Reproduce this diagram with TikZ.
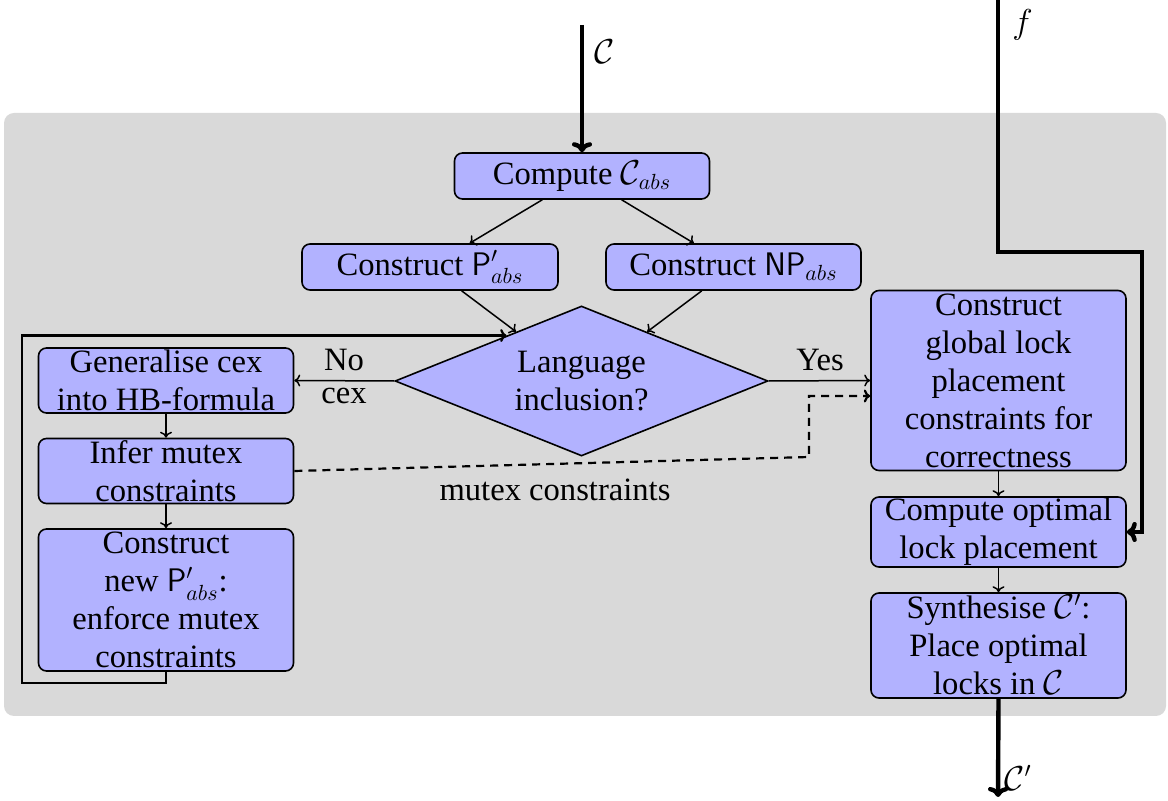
\documentclass[tikz,border=0pt]{standalone}
\usepackage{fontspec}
\setmainfont{Liberation Serif}
\usetikzlibrary{shapes.geometric,calc,arrows.meta}
\newcommand{\fsz}{\fontsize{16.3}{19}\selectfont}
\tikzset{
  box/.style={draw=black, line width=0.8pt, fill=blue!30, rounded corners=4pt,
    align=center, inner sep=0pt, font=\fsz, minimum width=127.5pt},
  decide/.style={diamond, draw=black, line width=0.8pt, fill=blue!30, align=center,
    inner sep=0pt, font=\fsz, minimum width=186.5pt, minimum height=75pt, aspect=2.5},
  conn/.style={line width=0.75pt, -{To[length=3pt,width=6pt]}},
  loopconn/.style={line width=1.1pt, -{To[length=3.2pt,width=6.5pt]}},
  dashconn/.style={line width=1.1pt, dash pattern=on 4pt off 3pt, -{To[length=3.2pt,width=6.5pt]}},
  thickconn/.style={line width=2.2pt, -{To[length=5pt,width=10pt]}},
  lbl/.style={font=\fsz, inner sep=0pt}
}
\begin{document}
\begin{tikzpicture}[x=0.5pt, y=-0.5pt]
\useasboundingbox (0,0) rectangle (1168,801);
\fill[gray!30, rounded corners=5pt] (4,113) rectangle (1166,716);

% nodes
\node[box, minimum height=23pt] (comp) at (582,176) {Compute $\mathcal{C}_{abs}$};
\node[box, minimum height=23pt, minimum width=128pt] (pp) at (430,267) {Construct $\mathsf{P}'_{abs}$};
\node[box, minimum height=23pt] (np) at (733.5,267) {Construct $\mathsf{NP}_{abs}$};
\node[decide] (lang) at (581.5,381) {Language\\inclusion?};
\node[box, minimum height=32.5pt] (gen) at (166,380.5) {Generalise cex\\into HB-formula};
\node[box, minimum height=32.5pt] (inf) at (166,471) {Infer mutex\\constraints};
\node[box, minimum height=71pt] (cnew) at (166,600) {Construct\\new $\smash{\mathsf{P}'_{abs}}$:\\enforce mutex\\constraints};
\node[box, minimum height=90pt] (glob) at (998.5,380.5) {Construct\\global lock\\placement\\constraints for\\correctness};
\node[box, minimum height=35pt] (opt) at (998.5,532) {Compute optimal\\lock placement};
\node[box, minimum height=52.5pt] (syn) at (998.5,645.5) {Synthesise $\smash{\mathcal{C}'}$:\\Place optimal\\locks in $\mathcal{C}$};

% coordinates
\coordinate (cin) at (582,25);
\coordinate (ftop) at (998,0);
\coordinate (fc1) at (1142,252);
\coordinate (cout) at (998,797);
\coordinate (lp1) at (22,683);
\coordinate (lpin) at ($(lang.west)!0.6!(lang.north)$);
\coordinate (d1) at (809,457);
\coordinate (d2) at (809,396);

% connectors
\draw[thickconn] (cin) -- (comp.north);
\draw[conn] (comp) -- (pp);
\draw[conn] (comp) -- (np);
\draw[conn] (pp) -- (lang);
\draw[conn] (np) -- (lang);
\draw[conn] (lang.west) -- (gen.east);
\draw[conn] (lang.east) -- (glob.west);
\draw[conn] (gen) -- (inf);
\draw[conn] (inf) -- (cnew);
\draw[conn] (glob) -- (opt);
\draw[conn] (opt) -- (syn);
\draw[loopconn] (cnew.south) |- (lp1) |- (lpin);
\draw[dashconn] (inf.east) -- (d1) -- (d2) -- (glob.west |- d2);
\draw[thickconn] (ftop) |- (fc1) |- (opt.east);
\draw[thickconn] (syn.south) -- (cout);

% labels
\node[lbl] (lno) at (344,360) {No};
\node[lbl] (lcex) at (344,396) {cex};
\node[lbl] (lyes) at (820,360) {Yes};
\node[lbl] (lmut) at (555,490) {mutex constraints};
\node[lbl, anchor=west] (lc) at (594,52) {$\mathcal{C}$};
\node[lbl, anchor=west] (lf) at (1012,25) {$f$};
\node[lbl, anchor=west] (lcp) at (1004,778) {$\mathcal{C}'$};
\end{tikzpicture}
\end{document}
